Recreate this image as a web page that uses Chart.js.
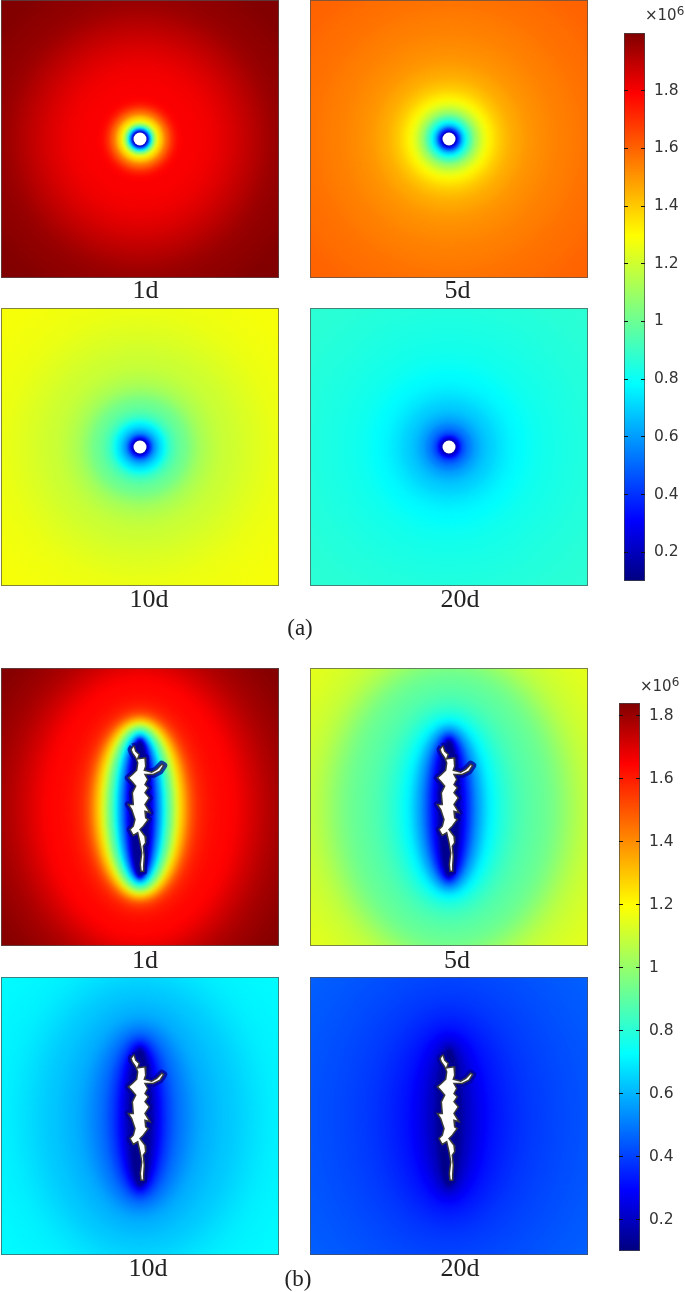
<!DOCTYPE html>
<html>
<head>
<meta charset="utf-8">
<title>Pressure field</title>
<script src="https://cdn.jsdelivr.net/npm/chart.js@4"></script>
<style>
body{margin:0;background:#fff;width:685px;height:1292px;position:relative;overflow:hidden}
canvas{position:absolute}
.lab{position:absolute;font-family:"Liberation Serif",serif;color:#222;transform:translateX(-50%);line-height:1;white-space:nowrap}
.exp{position:absolute;font:15px "DejaVu Sans",sans-serif;color:#333;line-height:1;white-space:nowrap}
.exp sup{font-size:12px;position:relative;top:-3px;vertical-align:top;line-height:1}
</style>
</head>
<body>
<script>
// ring sizes, px from the panel centre
const radiiA = [6,7,8,9,10,11,12,14,16,18,20,22,24,27,30,34,38,42,46,50,55,60,66,72,80,90,100,115,130,150,170,200,300]
const radiiBx = [9,11,13,15,17,19,21,23,26,29,32,35,38,42,46,50,55,60,66,72,80,90,100,112,125,140,160,185,210]
const radiiBy = [67,68,69,70,71,72,73,75,77,79,81,83,85,88,90,93,97,101,106,111,118,126,135,146,158,172,190,213,237]

const a1d = [.15,.2,.3,.45,.58,.7,.82,.98,1.12,1.25,1.35,1.4,1.46,1.54,1.62,1.7,1.76,1.79,1.8,1.8,1.8,1.8,1.81,1.81,1.82,1.84,1.86,1.89,1.93,1.965,1.98,2,2]
const a5d = [.15,.2,.27,.34,.42,.48,.54,.64,.72,.8,.87,.93,.99,1.06,1.13,1.2,1.26,1.31,1.35,1.38,1.41,1.43,1.46,1.47,1.49,1.51,1.52,1.54,1.55,1.57,1.58,1.6,1.6]
const a10d = [.15,.2,.25,.31,.37,.42,.47,.54,.6,.65,.69,.73,.76,.8,.88,.92,.96,.99,1.01,1.03,1.07,1.1,1.13,1.15,1.17,1.19,1.2,1.22,1.24,1.26,1.27,1.28,1.28]
const a20d = [.15,.18,.22,.26,.3,.34,.38,.43,.47,.5,.53,.55,.57,.6,.62,.65,.67,.69,.7,.72,.74,.75,.77,.78,.79,.81,.82,.83,.84,.85,.86,.87,.87]
const b1d = [.13,.2,.28,.36,.44,.51,.58,.65,.75,.85,.93,1.03,1.12,1.24,1.35,1.44,1.52,1.57,1.6,1.62,1.63,1.64,1.65,1.69,1.73,1.77,1.8,1.83,1.84]
const b5d = [.12,.17,.22,.27,.31,.35,.39,.43,.48,.53,.58,.62,.66,.7,.73,.76,.79,.81,.84,.86,.88,.9,.92,.95,1.01,1.07,1.11,1.14,1.16]
const b10d = [.12,.15,.18,.21,.24,.27,.3,.33,.36,.39,.42,.45,.47,.49,.51,.53,.55,.57,.59,.6,.61,.63,.64,.66,.68,.7,.71,.72,.73]
const b20d = [.11,.13,.15,.17,.19,.2,.21,.22,.24,.25,.27,.28,.29,.31,.32,.33,.34,.35,.36,.37,.38,.39,.4,.41,.42,.43,.44,.45,.46]

// fracture outline, px from the panel centre
const crackX = [-7.3,-5.7,-4.3,-.7,-2.3,5,5.7,4.3,11.7,16.7,21.7,23.7,20,13.3,5,7.7,5,8.3,5,9.3,5,10,5,5.7,8.3,3.3,0,5,5.7,3.3,4.3,3.7,3.7,1,.3,1.7,0,-2.3,-6.7,-10,-6.7,-5,-8.3,-11.7,-6.7,-7.7,-4.3,-8.3,-11.7,-7.7,-3.3,-2.3,-4.3,-7.7,-9]
const crackY = [-60.2,-60.8,-55.8,-52.5,-48.2,-49.2,-40.8,-36.8,-34.8,-37.5,-42.8,-41.5,-35.8,-32.5,-32.5,-27.5,-22.5,-19.2,-14.2,-9.2,-2.5,5.8,4.2,10.8,12.5,19.2,22.5,29.2,35.8,39.2,49.2,59.2,64.2,64.2,57.5,45.8,35.8,25.8,28.5,22.5,19.2,12.5,2.5,-2.5,-2.5,-14.2,-20.8,-25.8,-29.2,-32.5,-36.8,-44.2,-49.2,-54.2,-57.5]

const holeRadius = 6.5

const tickValues = [.2,.4,.6,.8,1,1.2,1.4,1.6,1.8]
const rangeA = [.1,2]
const rangeB = [.1,1.84]

// rainbow colour table: position, r, g, b
const colourStops = [[0,0,0,128],[.11,0,0,255],[.36,0,255,255],[.63,255,255,0],[.89,255,0,0],[1,128,0,0]]

function colourAt(t){
  t=Math.min(1,Math.max(0,t))
  for(let i=1;i<colourStops.length;i++){
    const p=colourStops[i-1],q=colourStops[i]
    if(t<=q[0]){
      const k=(t-p[0])/(q[0]-p[0])
      return 'rgb('+Math.round(p[1]+(q[1]-p[1])*k)+','+Math.round(p[2]+(q[2]-p[2])*k)+','+Math.round(p[3]+(q[3]-p[3])*k)+')'
    }
  }
}

// filled ellipses, biggest first, placed with the chart scales
class RingController extends Chart.BubbleController{
  draw(){
    const ctx=this.chart.ctx
    const meta=this.getMeta()
    const ds=this.getDataset()
    const xs=meta.xScale,ys=meta.yScale
    ctx.save()
    for(let i=ds.data.length-1;i>=0;i--){
      const d=ds.data[i]
      const px=xs.getPixelForValue(d.x),py=ys.getPixelForValue(d.y)
      const rx=Math.abs(xs.getPixelForValue(d.x+d.rx)-px)
      const ry=Math.abs(ys.getPixelForValue(d.y+d.ry)-py)
      // outer rings sit further apart, so they need a softer edge
      ctx.filter='blur('+Math.max(1,rx*.07)+'px)'
      ctx.fillStyle=colourAt((d.v-ds.range[0])/(ds.range[1]-ds.range[0]))
      ctx.beginPath()
      ctx.ellipse(px,py,rx,ry,0,0,Math.PI*2)
      ctx.fill()
    }
    ctx.restore()
  }
}
RingController.id='rings'
RingController.defaults=Chart.BubbleController.defaults
Chart.register(RingController)

const framePlugin={
  id:'frame',
  afterDraw(chart){
    const a=chart.chartArea,ctx=chart.ctx
    ctx.save()
    ctx.strokeStyle='rgba(80,80,80,.7)'
    ctx.lineWidth=1
    ctx.strokeRect(a.left+.5,a.top+.5,a.width-1,a.height-1)
    ctx.restore()
  }
}

function addCanvas(left,top,w,h){
  const c=document.createElement('canvas')
  c.width=w;c.height=h
  c.style.left=left+'px';c.style.top=top+'px'
  document.body.appendChild(c)
  return c
}

function addLabel(text,x,y,size){
  const d=document.createElement('div')
  d.className='lab'
  d.textContent=text
  d.style.left=x+'px';d.style.top=y+'px';d.style.fontSize=size+'px'
  document.body.appendChild(d)
}

function addPanel(left,top,values,range,withCrack){
  const rx=withCrack?radiiBx:radiiA
  const ry=withCrack?radiiBy:radiiA
  const cy=withCrack?1.5:0
  const datasets=[{
    type:'rings',order:5,range:range,
    data:values.map((v,i)=>({x:0,y:cy,r:1,rx:rx[i],ry:ry[i],v:v}))
  }]
  if(withCrack){
    const outline=crackX.map((x,i)=>({x:x,y:crackY[i]}))
    outline.push(outline[0])
    datasets.push({type:'line',order:2,data:outline,borderColor:'rgba(0,0,150,.75)',borderWidth:7,pointRadius:0,fill:false,tension:0,borderJoinStyle:'round'})
    datasets.push({type:'line',order:1,data:outline,borderColor:'#3c3c3c',backgroundColor:'#fff',borderWidth:1.5,pointRadius:0,fill:'shape',tension:0})
  }else{
    datasets.push({type:'bubble',order:1,data:[{x:0,y:0,r:holeRadius}],backgroundColor:'#fff',borderWidth:0})
  }
  new Chart(addCanvas(left,top,278,278),{
    data:{datasets:datasets},
    plugins:[framePlugin],
    options:{
      responsive:false,animation:false,
      layout:{padding:0,autoPadding:false},
      plugins:{legend:{display:false},tooltip:{enabled:false}},
      scales:{
        x:{type:'linear',display:false,min:-139,max:139},
        y:{type:'linear',display:false,reverse:true,min:-139,max:139}
      }
    }
  })
}

function addColourBar(left,top,h,range){
  new Chart(addCanvas(left,top-10,63,h+20),{
    type:'bar',
    data:{
      labels:[''],
      datasets:[{
        data:[range],
        barPercentage:1,categoryPercentage:1,
        borderWidth:1,borderColor:'#444',borderSkipped:false,
        backgroundColor(c){
          const a=c.chart.chartArea
          if(!a) return '#000'
          const g=c.chart.ctx.createLinearGradient(0,a.bottom,0,a.top)
          colourStops.forEach(s=>g.addColorStop(s[0],'rgb('+s[1]+','+s[2]+','+s[3]+')'))
          return g
        }
      }]
    },
    options:{
      responsive:false,animation:false,
      layout:{padding:{top:10,bottom:10,left:1,right:0},autoPadding:false},
      plugins:{legend:{display:false},tooltip:{enabled:false}},
      scales:{
        x:{display:false},
        y:{
          position:'right',min:range[0],max:range[1],
          afterBuildTicks(s){s.ticks=tickValues.map(v=>({value:v}))},
          afterFit(s){s.width=41;s.paddingTop=0;s.paddingBottom=0},
          border:{display:false,dash:[4,13]},
          grid:{color:'#111',z:1,drawTicks:false},
          ticks:{padding:9,color:'#333',font:{family:'"DejaVu Sans"',size:15.5},callback:v=>String(v)}
        }
      }
    }
  })
}

function addExponent(x,y){
  const d=document.createElement('div')
  d.className='exp'
  d.innerHTML='×10<sup>6</sup>'
  d.style.left=x+'px';d.style.top=y+'px'
  document.body.appendChild(d)
}

addPanel(1,0,a1d,rangeA,false)
addPanel(310,0,a5d,rangeA,false)
addPanel(1,308,a10d,rangeA,false)
addPanel(310,308,a20d,rangeA,false)
addPanel(1,668,b1d,rangeB,true)
addPanel(310,668,b5d,rangeB,true)
addPanel(1,977,b10d,rangeB,true)
addPanel(310,977,b20d,rangeB,true)

addColourBar(623,33,548,rangeA)
addColourBar(618,703,548,rangeB)
addExponent(645,8)
addExponent(640,679)

addLabel('1d',145.5,277,26)
addLabel('5d',457.5,277,26)
addLabel('10d',149,586,26)
addLabel('20d',460,586,26)
addLabel('(a)',300,616,23)
addLabel('1d',145,947,26)
addLabel('5d',457,947,26)
addLabel('10d',148,1255,26)
addLabel('20d',460,1255,26)
addLabel('(b)',298,1267,23)
</script>
</body>
</html>
